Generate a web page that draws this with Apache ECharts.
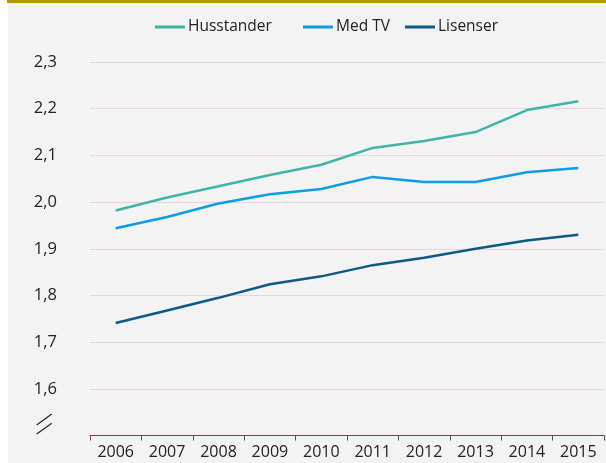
<!DOCTYPE html>
<html>
<head>
<meta charset="utf-8">
<script src="https://cdn.jsdelivr.net/npm/echarts@6/dist/echarts.min.js"></script>
<style>
html,body{margin:0;padding:0;background:#fff;}
#chart{width:606px;height:463px;background:linear-gradient(to right,#ffffff 0,#ffffff 8px,#f3f3f3 8px,#f3f3f3 100%);}
</style>
</head>
<body>
<div id="chart"></div>
<script>
const categories = ['2006','2007','2008','2009','2010','2011','2012','2013','2014','2015'];
const husstander = [1.982, 2.010, 2.034, 2.058, 2.080, 2.116, 2.131, 2.150, 2.197, 2.216];
const medTV = [1.944, 1.968, 1.997, 2.017, 2.028, 2.054, 2.043, 2.043, 2.064, 2.073];
const lisenser = [1.741, 1.768, 1.795, 1.824, 1.841, 1.865, 1.881, 1.900, 1.918, 1.930];
const seriesNames = ['Husstander', 'Med TV', 'Lisenser'];
const colors = ['#3fb5a5', '#0d9de2', '#0b5a88'];

const font = '"Open Sans", "Noto Sans", sans-serif';
const chart = echarts.init(document.getElementById('chart'));

function legendFor(name, left) {
  return {
    data: [name], left: left, top: 14,
    icon: 'rect', itemWidth: 30, itemHeight: 3, itemGap: 0,
    textStyle: { fontFamily: font, fontSize: 15.5, color: '#222', padding: [0, 0, 0, -2] }
  };
}

chart.setOption({
  animation: false,
  color: colors,
  textStyle: { fontFamily: font },
  legend: [legendFor(seriesNames[0], 150), legendFor(seriesNames[1], 298), legendFor(seriesNames[2], 400)],
  grid: { left: 90, right: 2, top: 62, bottom: 27.4, containLabel: false },
  xAxis: {
    type: 'category', data: categories, boundaryGap: true,
    axisLine: { show: true, lineStyle: { color: '#a3303e', width: 1.2 } },
    axisTick: { show: true, length: 5, lineStyle: { color: '#a3303e' } },
    axisLabel: { fontFamily: font, fontSize: 16, color: '#222', margin: 9 }
  },
  yAxis: {
    type: 'value', min: 1.5, max: 2.3, interval: 0.1,
    axisLine: { show: false }, axisTick: { show: false },
    splitLine: { show: true, lineStyle: { color: '#e6d5d9', width: 1 } },
    axisLabel: {
      fontFamily: font, fontSize: 16.5, color: '#222', margin: 33,
      formatter: function (v) { return Math.abs(v - 1.5) < 1e-6 ? '' : v.toFixed(1).replace('.', ','); }
    }
  },
  graphic: [
    { type: 'rect', left: 7, top: 0, shape: { width: 599, height: 3 }, style: { fill: '#b19a00' } },
    { type: 'line', shape: { x1: 36.7, y1: 425, x2: 51.7, y2: 414 }, style: { stroke: '#222', lineWidth: 1.2 } },
    { type: 'line', shape: { x1: 36.7, y1: 434, x2: 51.7, y2: 423.3 }, style: { stroke: '#222', lineWidth: 1.2 } }
  ],
  series: [
    { name: seriesNames[0], type: 'line', data: husstander, symbol: 'none', lineStyle: { width: 2.5 } },
    { name: seriesNames[1], type: 'line', data: medTV, symbol: 'none', lineStyle: { width: 2.5 } },
    { name: seriesNames[2], type: 'line', data: lisenser, symbol: 'none', lineStyle: { width: 2.5 } }
  ]
});
</script>
</body>
</html>
